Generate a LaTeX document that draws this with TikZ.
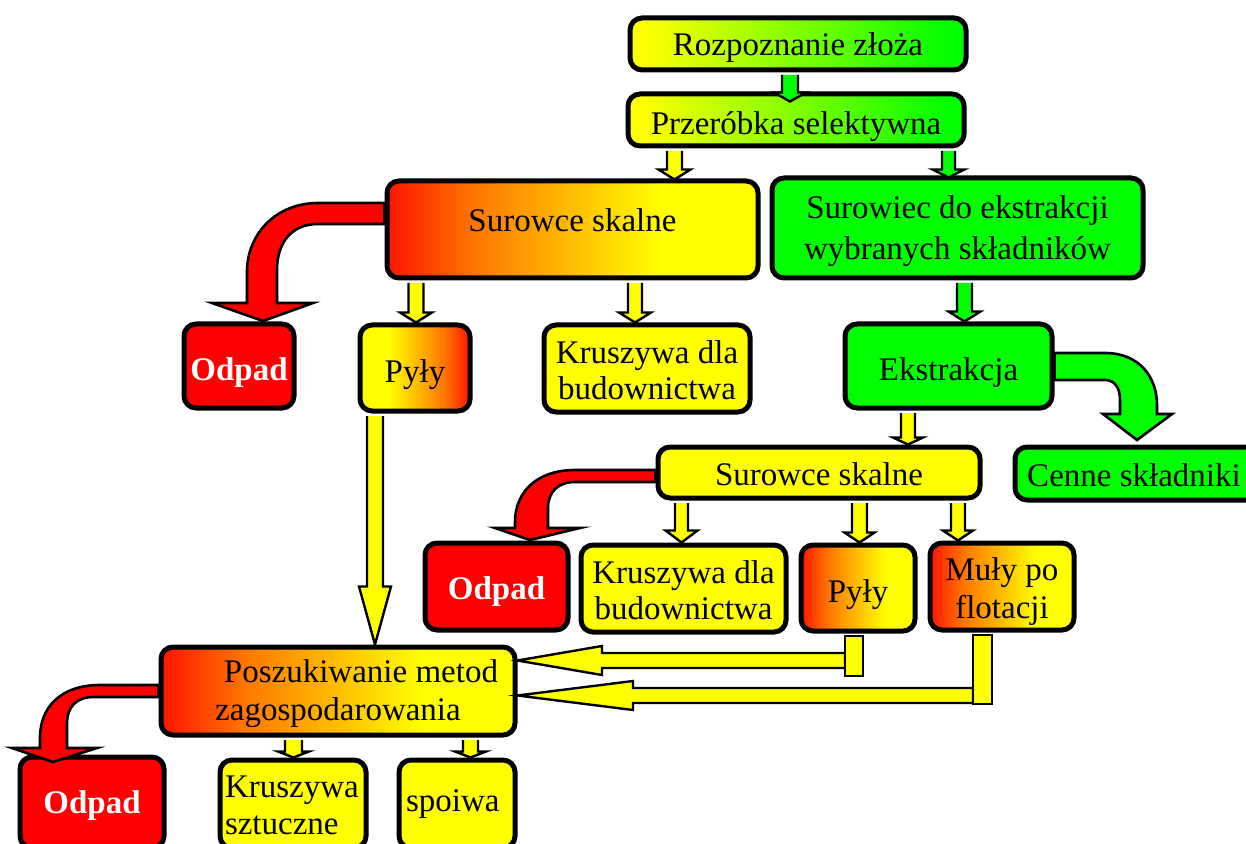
\documentclass[tikz,border=0pt]{standalone}
\usepackage{fontspec}
\setmainfont{Liberation Serif}
\usetikzlibrary{calc}
\definecolor{yel}{RGB}{255,255,0}
\definecolor{grn}{RGB}{0,255,0}
\definecolor{rd}{RGB}{255,0,0}
\definecolor{c1}{RGB}{255,20,0}
\definecolor{c2}{RGB}{255,120,0}
\definecolor{c3}{RGB}{255,185,0}
\pgfdeclarehorizontalshading{ry}{100bp}{color(0bp)=(c1); color(25bp)=(c1); color(37bp)=(c2); color(49bp)=(c3); color(62bp)=(yel); color(100bp)=(yel)}
\pgfdeclarehorizontalshading{yr}{100bp}{color(0bp)=(yel); color(38bp)=(yel); color(51bp)=(c3); color(63bp)=(c2); color(75bp)=(c1); color(100bp)=(c1)}
\pgfdeclarehorizontalshading{yg}{100bp}{color(0bp)=(yel); color(27bp)=(yel); color(73bp)=(grn); color(100bp)=(grn)}
\tikzset{
  box/.style={draw, line width=2.5pt, rounded corners=6pt, inner sep=0pt, align=center,
    font=\fontsize{16.5}{20}\selectfont},
  sz/.style 2 args={minimum width=#1*0.5pt, minimum height=#2*0.5pt},
  tb/.style 2 args={text height=#1pt, text depth=#2pt},
  waste/.style={box, fill=rd, text=white, font=\fontsize{16.5}{20}\selectfont\bfseries},
  barrow/.style={draw, line width=1.2pt, line join=miter},
  curvarr/.style={draw, line width=1.3pt, line join=miter},
}
% down block arrow: src, dst, x(px), colour, shaft half, head half, head length, overshoot (px)
\newcommand\dnarr[8]{%
  \path[barrow, fill=#4] let \p0=(#3,0), \p1=(#1.south), \p2=(#2.north) in
    (\x0-#5*0.5pt,\y1-1.25pt) -- (\x0-#5*0.5pt,\y2-#8*0.5pt+#7*0.5pt)
    -- (\x0-#6*0.5pt,\y2-#8*0.5pt+#7*0.5pt) -- (\x0,\y2-#8*0.5pt)
    -- (\x0+#6*0.5pt,\y2-#8*0.5pt+#7*0.5pt) -- (\x0+#5*0.5pt,\y2-#8*0.5pt+#7*0.5pt)
    -- (\x0+#5*0.5pt,\y1-1.25pt);}
\begin{document}
\begin{tikzpicture}[x=0.5pt, y=-0.5pt]
\useasboundingbox (0,0) rectangle (1246,844);
\clip (0,0) rectangle (1246,844);

% boxes
\node[box, sz={336}{52}, tb={12}{0}, shade, shading=yg] (roz) at (798,44) {Rozpoznanie złoża};
\node[box, sz={336}{52}, tb={14.5}{0}, shade, shading=yg] (prz) at (796,120) {Przeróbka selektywna};
\node[box, sz={371}{97}, tb={2}{0}, shade, shading=ry] (surA) at (572.5,229.5) {Surowce skalne};
\node[box, sz={371}{100}, tb={32}{0}, font=\fontsize{16.5}{20.5}\selectfont, fill=grn] (surW) at (957.5,228) {Surowiec do ekstrakcji\\wybranych składników};
\node[waste, sz={110}{84}, tb={14.5}{0}] (odp1) at (239,366) {Odpad};
\node[box, sz={110}{86}, tb={14.5}{0}, shade, shading=yr] (pyl1) at (415,368) {Pyły};
\node[box, sz={206}{87}, tb={31}{0}, font=\fontsize{16.5}{18}\selectfont, fill=yel] (kru1) at (647,368.5) {Kruszywa dla\\budownictwa};
\node[box, sz={207}{84}, tb={14.5}{0}, fill=grn] (ekst) at (948.5,366) {Ekstrakcja};
\node[box, sz={270}{53}, tb={12.5}{0}, fill=grn] (cen) at (1150,473.5) {\hspace*{-16pt}Cenne składniki};
\node[box, sz={322}{51}, tb={12.5}{0}, fill=yel] (surB) at (819,472.5) {Surowce skalne};
\node[waste, sz={143}{87}, tb={12.5}{0}] (odp2) at (496.5,586.5) {Odpad};
\node[box, sz={205}{87}, tb={30.5}{0}, font=\fontsize{16.5}{18}\selectfont, fill=yel] (kru2) at (683.5,588.5) {Kruszywa dla\\budownictwa};
\node[box, sz={114}{86}, tb={14}{0}, shade, shading=ry] (pyl2) at (858,588) {Pyły};
\node[box, sz={144}{87}, tb={31.5}{0}, font=\fontsize{16.5}{19}\selectfont, shade, shading=ry] (mul) at (1002,586.5) {Muły po\\flotacji};
\node[box, sz={354}{88}, tb={29.7}{0}, font=\fontsize{16.5}{19}\selectfont, shade, shading=ry] (posz) at (338,691) {\hspace*{23pt}Poszukiwanie metod\\zagospodarowania};
\node[waste, sz={144}{91}, tb={11}{0}] (odp3) at (92,802.5) {Odpad};
\node[box, sz={146}{88}, tb={12}{18.3}, font=\fontsize{16.5}{18.3}\selectfont, fill=yel, align=left, text width=68pt] (kru3) at (293,804) {Kruszywa\\sztuczne};
\node[box, sz={116}{88}, tb={7}{0}, fill=yel, align=left, text width=51pt] (spo) at (457,804) {spoiwa};

% straight block arrows
\dnarr{roz}{prz}{790}{grn}{8}{16}{9}{10}
\dnarr{prz}{surA}{674.5}{yel}{7.5}{16}{10}{1}
\dnarr{prz}{surW}{948.5}{grn}{6.5}{16}{8}{2}
\dnarr{surA}{pyl1}{416}{yel}{7.5}{16}{10}{0}
\dnarr{surA}{kru1}{635}{yel}{7}{16}{10}{0}
\dnarr{surW}{ekst}{964.5}{grn}{7.5}{16}{10}{0}
\dnarr{ekst}{surB}{908}{yel}{7}{15}{7}{0}
\dnarr{surB}{kru2}{681.5}{yel}{6.5}{16}{12}{0}
\dnarr{surB}{pyl2}{859.5}{yel}{7.5}{15}{10}{0}
\dnarr{surB}{mul}{958}{yel}{7}{15}{10}{0}
\dnarr{pyl1}{posz}{375}{yel}{8}{16}{58}{0}
\dnarr{posz}{kru3}{293.5}{yel}{8.5}{15.5}{6}{0}
\dnarr{posz}{spo}{470.5}{yel}{7.5}{15.5}{6}{0}

% L-shaped arrows into Poszukiwanie
\path[barrow, fill=yel] let \p0=(602,660.5), \p2=(posz.east) in
  (845,653) -- (602,653) -- (602,646) -- (\x2,\y0) -- (602,675) -- (602,668) -- (845,668) -- cycle;
\path[barrow, fill=yel] let \p0=(845,676), \p1=(pyl2.south) in
  (\x0,\y1-1.25pt) -- (\x0,\y0) -- (\x0+9pt,\y0) -- (\x0+9pt,\y1-1.25pt) -- cycle;
\path[barrow, fill=yel] let \p0=(633,695.5), \p2=(posz.east) in
  (973,688) -- (633,688) -- (633,681) -- (\x2,\y0) -- (633,710) -- (633,703) -- (973,703) -- cycle;
\path[barrow, fill=yel] let \p0=(973,704), \p1=(mul.south) in
  (\x0,\y1-1.25pt) -- (\x0,\y0) -- (\x0+9.5pt,\y0) -- (\x0+9.5pt,\y1-1.25pt) -- cycle;

% curved arrows
\path[curvarr, fill=rd] (surA.west |- 0,203) -- (318,203) .. controls (276,203) and (247,234) .. (247,272)
  -- (247,303) -- (212,303) -- (263,321) -- (313,303) -- (277,303) -- (277,270)
  .. controls (277,242) and (292,224) .. (318,224) -- (surA.west |- 0,224) -- cycle;
\path[curvarr, fill=rd] (surB.west |- 0,470) -- (575,470) .. controls (537,470) and (515,492) .. (515,522)
  -- (515,528) -- (495,528) -- (530,540) -- (580,528) -- (548,528) -- (548,508)
  .. controls (548,492) and (558,482) .. (575,482) -- (surB.west |- 0,482) -- cycle;
\path[curvarr, fill=rd] (posz.west |- 0,685) -- (100,685) .. controls (62,685) and (40,706) .. (40,738)
  -- (40,748) -- (12,748) -- (53,762) -- (97,748) -- (67,748) -- (67,724)
  .. controls (67,707) and (76,697) .. (94,697) -- (posz.west |- 0,697) -- cycle;
\path[curvarr, fill=grn] (ekst.east |- 0,353) -- (1105,353) .. controls (1140,353) and (1157,378) .. (1157,405)
  -- (1157,414) -- (1172,414) -- (1137,440) -- (1103,414) -- (1120,414) -- (1120,400)
  .. controls (1120,388) and (1115,380) .. (1105,380) -- (ekst.east |- 0,380) -- cycle;
\end{tikzpicture}
\end{document}
